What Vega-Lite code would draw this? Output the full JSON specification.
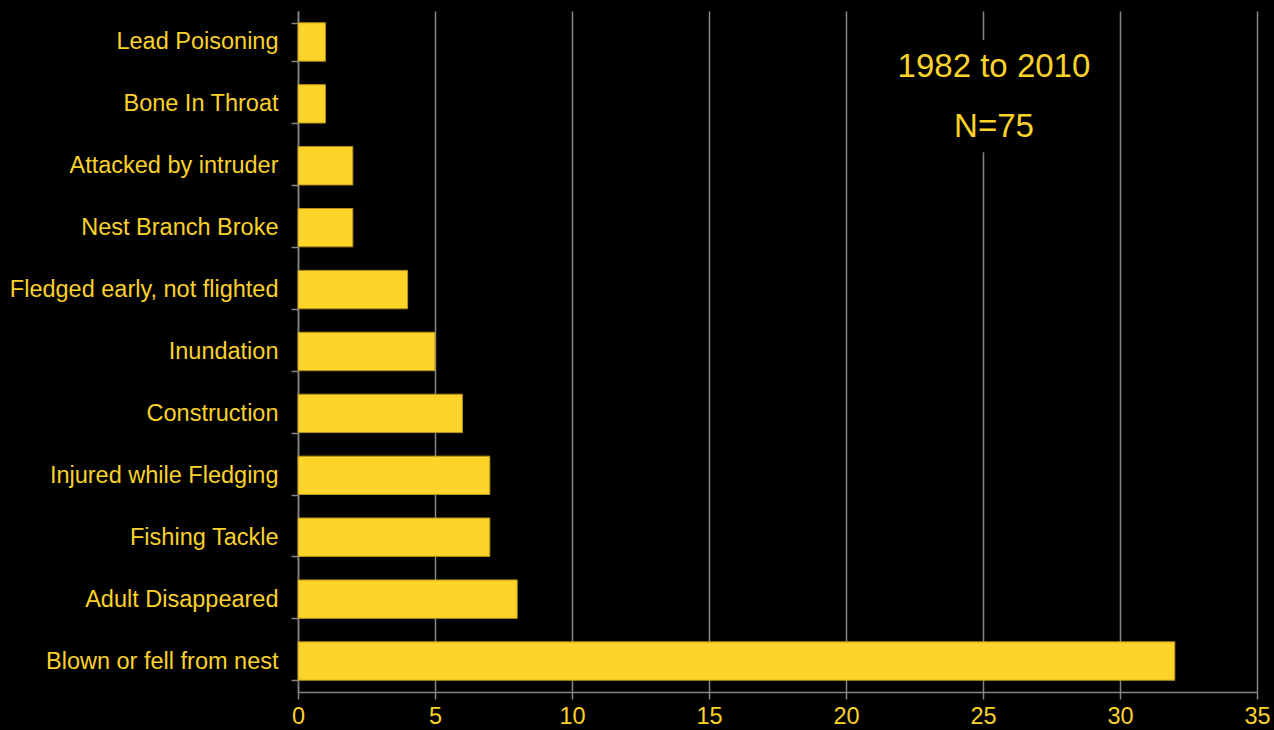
{
  "$schema": "https://vega.github.io/schema/vega-lite/v6.json",
  "autosize": {"type": "none"},
  "padding": {"left": 298, "top": 11, "right": 17, "bottom": 38},
  "width": 959,
  "height": 681,
  "background": "#000000",
  "config": {
    "view": {"stroke": null},
    "font": "Liberation Sans",
    "axis": {
      "labelColor": "#FAD22A",
      "labelFont": "Liberation Sans",
      "labelFontSize": 23.5,
      "labelLimit": 0,
      "domainColor": "#858585",
      "tickColor": "#858585",
      "gridColor": "#858585",
      "domainWidth": 1.5,
      "tickWidth": 1.5,
      "gridWidth": 1.5
    }
  },
  "data": {
    "values": [
      {"cause": "Lead Poisoning", "count": 1, "order": 1},
      {"cause": "Bone In Throat", "count": 1, "order": 2},
      {"cause": "Attacked by intruder", "count": 2, "order": 3},
      {"cause": "Nest Branch Broke", "count": 2, "order": 4},
      {"cause": "Fledged early, not flighted", "count": 4, "order": 5},
      {"cause": "Inundation", "count": 5, "order": 6},
      {"cause": "Construction", "count": 6, "order": 7},
      {"cause": "Injured while Fledging", "count": 7, "order": 8},
      {"cause": "Fishing Tackle", "count": 7, "order": 9},
      {"cause": "Adult Disappeared", "count": 8, "order": 10},
      {"cause": "Blown or fell from nest", "count": 32, "order": 11}
    ]
  },
  "resolve": {"scale": {"y": "independent"}, "axis": {"y": "independent"}},
  "layer": [
    {
      "mark": {"type": "bar", "color": "#FFD42A", "stroke": "#B8941A", "strokeWidth": 1},
      "encoding": {
        "y": {
          "field": "cause",
          "type": "nominal",
          "sort": {"field": "order", "order": "ascending"},
          "scale": {"paddingInner": 0.38, "paddingOuter": 0.19},
          "axis": {
            "title": null,
            "grid": false,
            "tickBand": "extent",
            "tickSize": 7,
            "labelPadding": 13,
            "labelLimit": 0,
            "domain": true
          }
        },
        "x": {
          "field": "count",
          "type": "quantitative",
          "scale": {"domain": [0, 35], "nice": false},
          "axis": {
            "title": null,
            "values": [0, 5, 10, 15, 20, 25, 30, 35],
            "grid": true,
            "tickSize": 7,
            "labelPadding": 5,
            "labelFlush": false
          }
        }
      }
    },
    {
      "data": {"values": [{}]},
      "mark": {"type": "rect", "color": "#000000"},
      "encoding": {
        "x": {"datum": 23.2, "type": "quantitative"},
        "x2": {"datum": 27.6},
        "y": {"datum": 0.47, "type": "quantitative", "scale": {"domain": [0, 11], "reverse": true, "nice": false, "zero": false}, "axis": null},
        "y2": {"datum": 2.28}
      }
    },
    {
      "data": {"values": [{"label": "1982 to 2010", "row": 0.905}, {"label": "N=75", "row": 1.874}]},
      "mark": {"type": "text", "color": "#FAD22A", "fontSize": 33, "font": "Liberation Sans", "align": "center", "baseline": "middle"},
      "encoding": {
        "x": {"datum": 25.4, "type": "quantitative"},
        "y": {"field": "row", "type": "quantitative", "scale": {"domain": [0, 11], "reverse": true, "nice": false, "zero": false}, "axis": null},
        "text": {"field": "label"}
      }
    }
  ]
}
